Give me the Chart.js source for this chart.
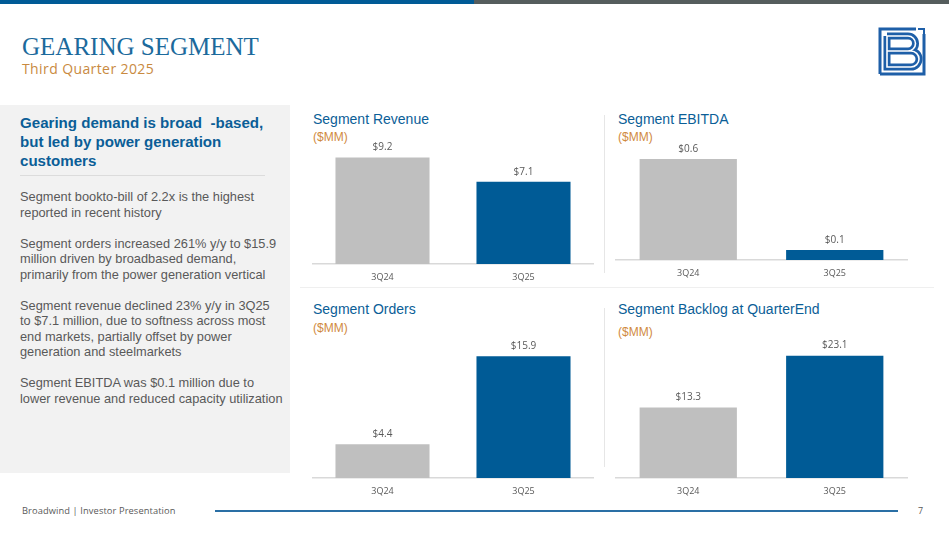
<!DOCTYPE html>
<html>
<head>
<meta charset="utf-8">
<script src="https://cdn.jsdelivr.net/npm/chart.js@4.4.1/dist/chart.umd.min.js"></script>
<style>
  html, body { margin: 0; padding: 0; }
  body { width: 949px; height: 534px; position: relative; overflow: hidden; background: #fff; font-family: "Liberation Sans", Arial, sans-serif; }
  .abs { position: absolute; }
  .bar-blue { left: 0; top: 0; width: 474px; height: 4px; background: #005b96; }
  .bar-gray { left: 474px; top: 0; width: 475px; height: 4px; background: #555d5d; }
  .title { left: 22px; top: 33px; font-family: "Liberation Serif", serif; font-size: 25px; line-height: 28px; color: #1c6a9c; white-space: nowrap; }
  .subtitle { left: 22px; top: 60px; font-family: "Open Sans", sans-serif; font-size: 14px; letter-spacing: 0.4px; line-height: 18px; color: #c98a3f; white-space: nowrap; }
  .panel { left: 0; top: 105px; width: 290px; height: 368px; background: #f2f2f2; }
  .heading { left: 20px; top: 113px; font-size: 15.1px; line-height: 19px; font-weight: bold; color: #0b5e97; white-space: nowrap; }
  .rule { left: 20px; top: 175px; width: 245px; height: 1px; background: #dcdcdc; }
  .body { left: 20px; top: 189px; font-size: 12.8px; line-height: 15.5px; color: #595959; white-space: nowrap; }
  .ctitle { font-size: 14px; line-height: 16px; color: #0b5e97; white-space: nowrap; }
  .cunit { font-size: 12px; line-height: 14px; color: #d08a3e; white-space: nowrap; }
  .vsep { width: 1px; background: #e6e6e6; }
  .hsep { left: 300px; top: 287px; width: 634px; height: 1px; background: #efefef; }
  .foot { left: 22px; top: 505px; font-family: "Open Sans", sans-serif; font-size: 9.3px; letter-spacing: 0.1px; line-height: 12px; color: #595959; white-space: nowrap; }
  .fline { left: 215px; top: 510px; width: 683px; height: 2px; background: #2a6fa5; }
  .page { left: 918px; top: 505px; font-family: "Open Sans", sans-serif; font-size: 9px; line-height: 12px; color: #595959; }
  canvas { position: absolute; }
</style>
</head>
<body>
<div class="abs bar-blue"></div>
<div class="abs bar-gray"></div>

<div class="abs title">GEARING SEGMENT</div>
<div class="abs subtitle">Third Quarter 2025</div>

<svg class="abs" style="left:878px; top:27px;" width="48" height="49" viewBox="0 0 48 49">
  <path d="M2 47 V2 H38 M46 7 V47 H2" fill="none" stroke="#1e5fa8" stroke-width="3"/>
  <path d="M40 2 H46 V8" fill="none" stroke="#1e5fa8" stroke-width="2"/>
  <path d="M9 9 H30 A7.5 7.5 0 0 1 30 24 H9 M9 24 H33 A8 8 0 0 1 33 40 H9 V9" fill="none" stroke="#1e5fa8" stroke-width="7"/>
  <path d="M9 9 H30 A7.5 7.5 0 0 1 30 24 H9 M9 24 H33 A8 8 0 0 1 33 40 H9 V9" fill="none" stroke="#ffffff" stroke-width="1.6"/>
</svg>

<div class="abs panel"></div>
<div class="abs heading">Gearing demand is broad&nbsp;&nbsp;-based,<br>but led by power generation<br>customers</div>
<div class="abs rule"></div>
<div class="abs body">Segment bookto-bill of 2.2x is the highest<br>reported in recent history<br><br>Segment orders increased 261% y/y to $15.9<br>million driven by broadbased demand,<br>primarily from the power generation vertical<br><br>Segment revenue declined 23% y/y in 3Q25<br>to $7.1 million, due to softness across most<br>end markets, partially offset by power<br>generation and steelmarkets<br><br>Segment EBITDA was $0.1 million due to<br>lower revenue and reduced capacity utilization</div>

<div class="abs ctitle" style="left:313px; top:111px;">Segment Revenue</div>
<div class="abs cunit" style="left:313px; top:130px;">($MM)</div>
<div class="abs ctitle" style="left:618px; top:111px;">Segment EBITDA</div>
<div class="abs cunit" style="left:618px; top:130px;">($MM)</div>
<div class="abs ctitle" style="left:313px; top:301px;">Segment Orders</div>
<div class="abs cunit" style="left:313px; top:321px;">($MM)</div>
<div class="abs ctitle" style="left:618px; top:301px;">Segment Backlog at QuarterEnd</div>
<div class="abs cunit" style="left:618px; top:325px;">($MM)</div>

<div class="abs vsep" style="left:604px; top:115px; height:158px;"></div>
<div class="abs vsep" style="left:604px; top:308px; height:159px;"></div>
<div class="abs hsep"></div>

<canvas id="revenueChart" style="left:312px; top:140px; width:282px; height:144px;"></canvas>
<canvas id="ebitdaChart" style="left:615px; top:140px; width:293px; height:140px;"></canvas>
<canvas id="ordersChart" style="left:312px; top:335px; width:282px; height:163px;"></canvas>
<canvas id="backlogChart" style="left:615px; top:335px; width:293px; height:163px;"></canvas>

<div class="abs foot">Broadwind | Investor Presentation</div>
<div class="abs fline"></div>
<div class="abs page">7</div>

<script>
// Données ($MM)
var quarters = ['3Q24', '3Q25'];
var revenue = [9.2, 7.1];
var ebitda = [0.6, 0.06];
var orders = [4.4, 15.9];
var backlog = [13.3, 23.1];

var barColors = ['#bfbfbf', '#005b96'];

// Plugin pour écrire la valeur au-dessus de chaque barre
var valueLabels = {
    id: 'valueLabels',
    afterDatasetsDraw: function(chart) {
        var ctx = chart.ctx;
        var meta = chart.getDatasetMeta(0);
        var data = chart.data.datasets[0].data;
        ctx.save();
        ctx.font = '10px "Open Sans", sans-serif';
        ctx.fillStyle = '#595959';
        ctx.textAlign = 'center';
        ctx.textBaseline = 'middle';
        for (var i = 0; i < meta.data.length; i++) {
            var bar = meta.data[i];
            ctx.fillText('$' + data[i].toFixed(1), bar.x, bar.y - 10);
        }
        ctx.restore();
    }
};

function makeChart(id, values, yMax, barPct) {
    var ctx = document.getElementById(id).getContext('2d');
    return new Chart(ctx, {
        type: 'bar',
        data: {
            labels: quarters,
            datasets: [{
                data: values,
                backgroundColor: barColors,
                borderWidth: 0,
                categoryPercentage: 1,
                barPercentage: barPct
            }]
        },
        options: {
            responsive: false,
            animation: false,
            layout: { padding: 0 },
            plugins: {
                legend: { display: false },
                tooltip: { enabled: false }
            },
            scales: {
                x: {
                    grid: { display: false, drawTicks: false },
                    border: { display: true, color: '#d9d9d9', width: 1.5 },
                    ticks: {
                        color: '#595959',
                        padding: 8,
                        font: { family: '"Open Sans", sans-serif', size: 9 }
                    },
                    afterFit: function(scale) { scale.height = 20; }
                },
                y: {
                    display: false,
                    min: 0,
                    max: yMax
                }
            }
        },
        plugins: [valueLabels]
    });
}

makeChart('revenueChart', revenue, 10.7, 0.667);
makeChart('ebitdaChart', ebitda, 0.713, 0.664);
makeChart('ordersChart', orders, 18.68, 0.667);
makeChart('backlogChart', backlog, 27, 0.664);
</script>
</body>
</html>
